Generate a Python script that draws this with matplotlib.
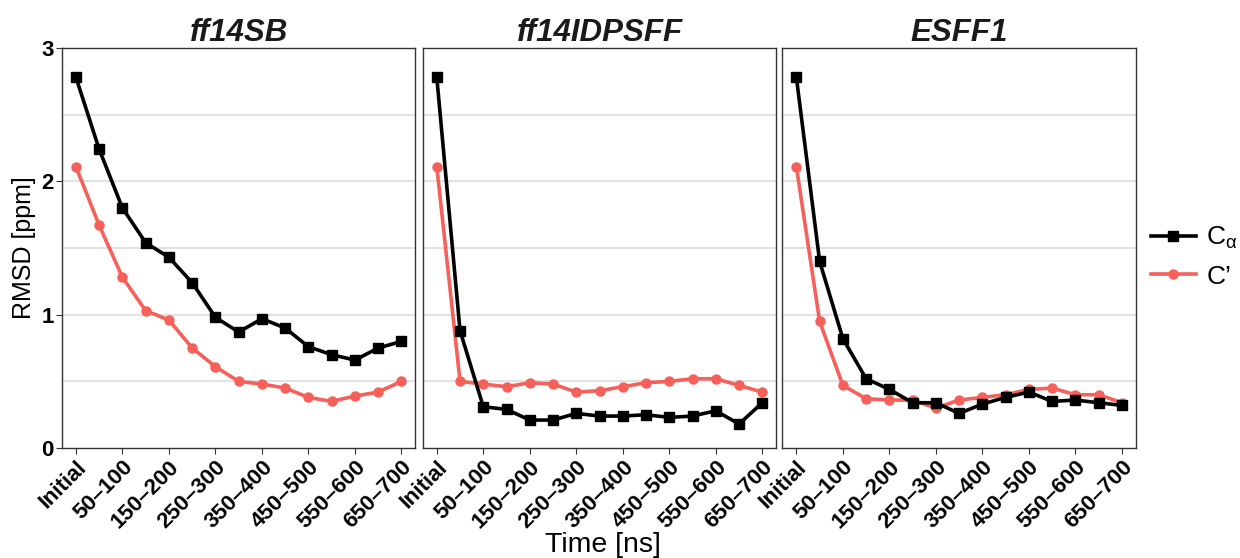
import numpy as np
import matplotlib
matplotlib.use("Agg")
import matplotlib.pyplot as plt

plt.rcParams['font.family'] = ['Liberation Sans', 'DejaVu Sans']
plt.rcParams['mathtext.fontset'] = 'custom'
plt.rcParams['mathtext.rm'] = 'Liberation Sans'

# categories along the time axis
time_bins = ["Initial", "0–50", "50–100", "100–150", "150–200", "200–250",
             "250–300", "300–350", "350–400", "400–450", "450–500",
             "500–550", "550–600", "600–650", "650–700"]
force_fields = ["ff14SB", "ff14IDPSFF", "ESFF1"]

# RMSD [ppm] for C-alpha
ca_ff14sb = [2.78, 2.24, 1.80, 1.54, 1.43, 1.24, 0.98, 0.87, 0.97, 0.90,
             0.76, 0.70, 0.66, 0.75, 0.80]
ca_idps = [2.78, 0.88, 0.31, 0.29, 0.21, 0.21, 0.26, 0.24, 0.24, 0.25,
           0.23, 0.24, 0.28, 0.18, 0.34]
ca_esff1 = [2.78, 1.40, 0.82, 0.52, 0.44, 0.34, 0.34, 0.26, 0.33, 0.38,
            0.42, 0.35, 0.36, 0.34, 0.32]

# RMSD [ppm] for C'
co_ff14sb = [2.11, 1.67, 1.28, 1.03, 0.96, 0.75, 0.61, 0.50, 0.48, 0.45,
             0.38, 0.35, 0.39, 0.42, 0.50]
co_idps = [2.11, 0.50, 0.48, 0.46, 0.49, 0.48, 0.42, 0.43, 0.46, 0.49,
           0.50, 0.52, 0.52, 0.47, 0.42]
co_esff1 = [2.11, 0.95, 0.47, 0.37, 0.36, 0.36, 0.30, 0.36, 0.38, 0.40,
            0.44, 0.45, 0.40, 0.40, 0.34]

ca_all = [ca_ff14sb, ca_idps, ca_esff1]
co_all = [co_ff14sb, co_idps, co_esff1]

red = "#F5605A"
x = np.arange(1, len(time_bins) + 1)

fig = plt.figure(figsize=(12.4, 5.58), dpi=100)
lefts = [0.050, 0.341, 0.631]
width = 0.285
bottom, top = 0.197, 0.914

for i, name in enumerate(force_fields):
    ax = fig.add_axes([lefts[i], bottom, width, top - bottom])
    ax.set_axisbelow(True)
    for yg in [0.5, 1.0, 1.5, 2.0, 2.5]:
        ax.axhline(yg, color="#d9d9d9", lw=1.1, zorder=0)
    l1, = ax.plot(x, ca_all[i], color="black", lw=2.6, marker="s", ms=7.5,
                  zorder=3)
    l2, = ax.plot(x, co_all[i], color=red, lw=2.6, marker="o", ms=6.5,
                  zorder=2)
    ax.set_xlim(0.4, 15.6)
    ax.set_ylim(0, 3)
    ax.set_xticks(x[::2])
    ax.set_xticklabels(time_bins[::2], rotation=45, ha="right",
                       rotation_mode="anchor", fontsize=16,
                       fontweight="bold")
    ax.tick_params(axis="x", length=4, color="#333333", pad=2)
    ax.set_yticks([0, 1, 2, 3])
    if i == 0:
        ax.set_yticklabels(["0", "1", "2", "3"], fontsize=16,
                           fontweight="bold")
        ax.tick_params(axis="y", length=4, color="#333333", pad=2)
        ax.set_ylabel("RMSD [ppm]", fontsize=18, labelpad=4)
    else:
        ax.set_yticklabels([])
        ax.tick_params(axis="y", length=0)
    for s in ax.spines.values():
        s.set_color("#333333")
        s.set_linewidth(1.0)
    ax.set_title(name, fontsize=22.5, fontweight="bold", style="italic",
                 color="#1a1a1a", pad=5)

fig.text(0.486, 0.0, "Time [ns]", fontsize=20.5, ha="center", va="bottom")

fig.legend([l1, l2], ["C$_\\mathrm{α}$", "C’"], loc="center left",
           bbox_to_anchor=(0.928, 0.54), frameon=False, fontsize=19,
           handlelength=1.7, handletextpad=0.4, labelspacing=0.5,
           borderpad=0, borderaxespad=0)

fig.savefig("out.png", dpi=100)
